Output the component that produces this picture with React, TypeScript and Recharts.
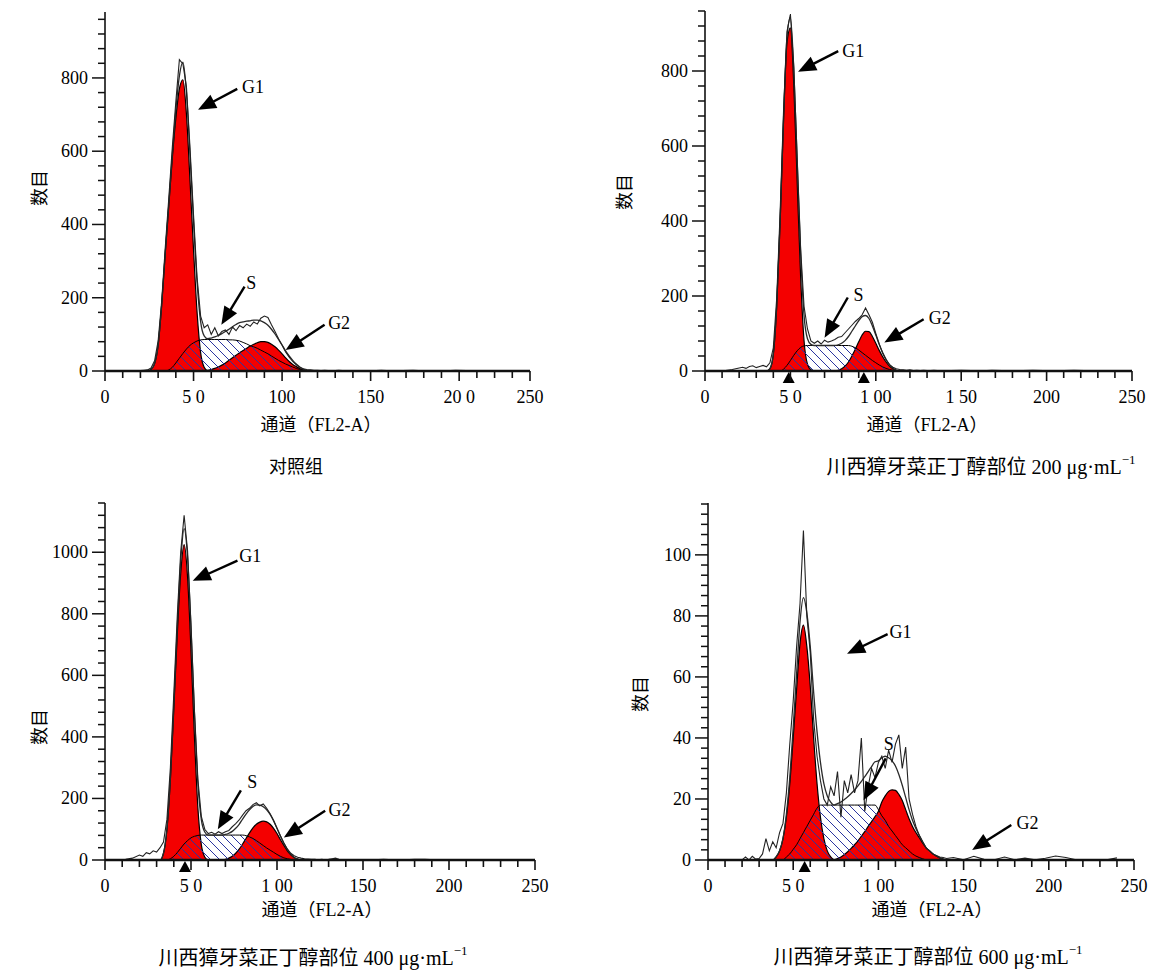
import React from 'react';
import { ComposedChart, Area, Line, XAxis, YAxis, ReferenceLine, ReferenceDot } from 'recharts';

const SERIF = '"Liberation Serif", "Times New Roman", "Noto Sans CJK SC", serif';
const CJK = '"Liberation Serif", "Noto Sans CJK SC", serif';
const RED = '#f40000';
const HATCH = '#2b35a0';
const INK = '#111';

// FL2-A channel grid (step 2) where the fitted components live
const CH = [20, 22, 24, 26, 28, 30, 32, 34, 36, 38, 40, 42, 44, 46, 48, 50, 52, 54, 56, 58, 60, 62, 64, 66, 68, 70, 72, 74, 76, 78,
  80, 82, 84, 86, 88, 90, 92, 94, 96, 98, 100, 102, 104, 106, 108, 110, 112, 114, 116, 118, 120, 122, 124, 126, 128, 130, 132, 134, 136, 138, 140];
// raw histogram outside the grid
const LEFT_CH = [0, 6, 12, 16];
const TAIL_CH = [144, 150, 156, 162, 168, 174, 180, 186, 192, 198, 204, 210, 216, 222, 228, 234, 240];

// ---- 对照组
const p1G1 = [0, 0, 0, 4, 20, 70, 180, 320, 450, 580, 690, 770, 795, 700, 520, 330, 160, 50, 10, 0];
const p1S = [0, 0, 0, 0, 0, 0, 0, 0, 3, 10, 22, 35, 48, 60, 70, 77, 82, 85, 86, 86, 86, 86, 86, 86, 86, 85, 85, 84, 82, 78,
  74, 69, 66, 62, 57, 52, 47, 41, 35, 29, 24, 19, 15, 11, 7, 4, 2, 0];
const p1G2 = [0, 0, 0, 0, 0, 0, 0, 0, 0, 0, 0, 0, 0, 0, 0, 0, 0, 0, 0, 2, 4, 7, 11, 16, 22, 29, 36, 43, 50, 56,
  62, 68, 73, 77, 80, 80, 78, 73, 66, 57, 47, 36, 26, 18, 12, 7, 3, 1, 0];
const p1Fit = [0, 0, 0, 4, 20, 70, 180, 320, 453, 590, 712, 805, 843, 760, 590, 407, 242, 135, 96, 88, 90, 93, 97, 102, 108, 114, 121, 127, 132, 134,
  136, 137, 139, 139, 137, 132, 125, 114, 101, 86, 71, 55, 41, 29, 19, 11, 5, 1, 0];
const p1Raw = [1, 2, 3, 8, 28, 82, 190, 335, 470, 610, 735, 850, 838, 775, 610, 425, 255, 150, 118, 126, 100, 118, 96, 108, 112, 100, 120, 110, 124, 118,
  128, 122, 134, 128, 144, 150, 146, 126, 108, 88, 70, 52, 38, 26, 17, 10, 6, 4, 3, 2, 2, 1, 2, 1, 1, 1, 2, 1, 1, 1, 1];
const p1RawLeft = [0, 1, 0, 1];
const p1RawTail = [1, 0.5, 2, 0.5, 1, 2, 0.5, 1, 0.5, 2, 1, 0.5, 1, 0.5, 1, 0.5, 1];

// ---- 200 μg·mL-1
const p2G1 = [0, 0, 0, 0, 0, 0, 0, 0, 0, 6, 45, 175, 400, 670, 875, 915, 760, 500, 250, 80, 18, 3, 0];
const p2S = [0, 0, 0, 0, 0, 0, 0, 0, 0, 0, 0, 0, 0, 5, 15, 28, 42, 54, 63, 67, 68, 68, 68, 68, 68, 68, 68, 68, 68, 68,
  68, 68, 68, 66, 62, 56, 49, 42, 35, 28, 22, 16, 11, 7, 4, 2, 0];
const p2G2 = [0, 0, 0, 0, 0, 0, 0, 0, 0, 0, 0, 0, 0, 0, 0, 0, 0, 0, 0, 0, 0, 0, 0, 0, 0, 0, 0, 0, 0, 2,
  6, 13, 24, 40, 58, 78, 96, 106, 105, 92, 74, 55, 38, 24, 13, 6, 2, 0];
const p2Fit = [0, 0, 0, 0, 0, 0, 0, 0, 0, 6, 45, 175, 400, 675, 890, 943, 802, 554, 313, 147, 86, 71, 68, 68, 68, 68, 68, 68, 68, 70,
  74, 81, 92, 106, 120, 134, 145, 148, 140, 120, 96, 71, 49, 31, 17, 8, 2, 0];
const p2Raw = [8, 10, 7, 12, 14, 9, 12, 15, 11, 22, 62, 195, 425, 695, 905, 952, 810, 565, 325, 172, 112, 80, 74, 80, 72, 82, 77, 80, 84, 90,
  92, 102, 112, 122, 132, 140, 150, 168, 150, 130, 100, 72, 48, 30, 17, 10, 6, 4, 3, 2, 3, 1, 2, 1, 2, 1, 1, 2, 1, 1, 1];
const p2RawLeft = [0, 0, 1, 4];
const p2RawTail = [1, 2, 1, 0.5, 2, 1, 0.5, 1, 2, 1, 0.5, 1, 2, 1, 0.5, 1, 1];

// ---- 400 μg·mL-1
const p3G1 = [0, 0, 0, 0, 0, 0, 0, 22, 100, 260, 490, 730, 930, 1025, 920, 680, 400, 170, 50, 10, 0];
const p3S = [0, 0, 0, 0, 0, 0, 0, 0, 0, 4, 12, 24, 38, 52, 63, 72, 77, 80, 81, 81, 81, 81, 81, 81, 81, 81, 81, 81, 81, 81,
  81, 79, 75, 70, 63, 55, 47, 39, 32, 25, 18, 12, 7, 4, 2, 0];
const p3G2 = [0, 0, 0, 0, 0, 0, 0, 0, 0, 0, 0, 0, 0, 0, 0, 0, 0, 0, 0, 0, 0, 0, 0, 0, 0, 2, 6, 12, 22, 35,
  52, 70, 88, 104, 116, 123, 126, 124, 116, 103, 86, 66, 47, 30, 17, 8, 3, 0];
const p3Fit = [0, 0, 0, 0, 0, 0, 0, 22, 100, 264, 502, 754, 968, 1077, 983, 752, 477, 250, 131, 91, 81, 81, 81, 81, 81, 83, 87, 93, 103, 116,
  133, 149, 163, 174, 179, 178, 173, 163, 148, 128, 104, 78, 54, 34, 19, 8, 3, 0];
const p3Raw = [16, 12, 24, 20, 30, 26, 40, 58, 132, 300, 540, 790, 1000, 1120, 1005, 765, 485, 262, 142, 100, 86, 90, 84, 92, 86, 92, 96, 108, 118, 130,
  146, 160, 168, 180, 186, 176, 182, 168, 150, 128, 102, 78, 55, 36, 22, 14, 9, 6, 4, 3, 2, 2, 1, 2, 1, 2, 4, 6, 2, 1, 1];
const p3RawLeft = [0, 0, 2, 6];
const p3RawTail = [1, 0.5, 1, 2, 0.5, 1, 2, 2, 0.5, 1, 0.5, 1, 0.5, 1, 0.5, 1, 0.5];

// ---- 600 μg·mL-1
const p4G1 = [0, 0, 0, 0, 0, 0, 0, 0, 0, 0, 1, 3, 7, 14, 25, 40, 56, 71, 77, 70, 57, 40, 25, 14, 7, 3, 1, 0];
const p4S = [0, 0, 0, 0, 0, 0, 0, 0, 0, 0, 0, 0, 0, 1, 2, 3.5, 5, 7, 9, 11, 13, 15, 17, 18, 18, 18, 18, 18, 18, 18,
  18, 18, 18, 18, 18, 18, 18, 18, 18, 18, 16.5, 14.5, 13, 11, 9.5, 8, 6.5, 5, 4, 3, 2, 1.3, 0.8, 0.4, 0];
const p4G2 = [0, 0, 0, 0, 0, 0, 0, 0, 0, 0, 0, 0, 0, 0, 0, 0, 0, 0, 0, 0, 0, 0, 0, 0, 0, 0, 0, 0, 0.5, 1,
  1.8, 2.7, 3.8, 5, 6.3, 7.8, 9.3, 11, 12.6, 14.2, 16, 19, 21, 22.5, 23, 22.8, 21.5, 19.5, 16.5, 13.5, 11, 9, 7.3, 5.5, 4, 3, 2, 1.3, 0.7, 0.3, 0];
const p4Fit = [0, 0, 0, 0, 0, 0, 0, 0, 0, 0, 1, 3, 7, 15, 27, 43.5, 61, 78, 86, 81, 70, 55, 42, 32, 25, 21, 19, 18, 18.5, 19,
  19.8, 20.7, 21.8, 23, 24.3, 25.8, 27.3, 29, 30.6, 32.2, 32.5, 33.5, 34, 33.5, 32.5, 30.8, 28, 24.5, 20.5, 16.5, 13, 10.3, 8.1, 5.9, 4, 3, 2, 1.3, 0.7, 0.3, 0];
const p4Raw = [0, 1, 0, 1.2, 0.3, 0.5, 2, 7, 3, 6, 4, 9, 12, 22, 38, 52, 70, 84, 108, 80, 68, 46, 34, 26, 20, 18, 24, 21, 29, 14,
  26, 22, 28, 22, 26, 40, 16, 24, 30, 27, 32, 34, 30, 36, 32, 38, 41, 30, 37, 20, 15, 11, 8, 6, 4, 3, 2, 1.5, 1, 0.8, 0.5];
const p4RawLeft = [0, 0, 0, 0];
const p4RawTail = [0.8, 0.1, 1.2, 0.2, 0.1, 1, 0.1, 0.6, 0.1, 0.6, 1.3, 0.8, 0.1, 0.1, 0.1, 0.1, 0.7];

// axis tick labels
const X_MAJOR_240 = [0, 50, 100, 150, 200, 240];
const X_MAJOR_250 = [0, 50, 100, 150, 200, 250];
const p1XLabels = ['0', '5 0', '100', '150', '20 0', '250'];
const p2XLabels = ['0', '5 0', '1 00', '1 50', '200', '250'];
const p3XLabels = ['0', '5 0', '1 00', '150', '200', '250'];
const p4XLabels = ['0', '5 0', '1 00', '150', '200', '250'];
const Y_MAJOR_800 = [0, 200, 400, 600, 800];
const Y_MAJOR_1000 = [0, 200, 400, 600, 800, 1000];
const Y_MAJOR_100 = [0, 20, 40, 60, 80, 100];

// peak markers under the axis (channel)
const p2Marks = [49, 93];
const p3Marks = [46.5];
const p4Marks = [56.7];

// arrows: label position, tail (x1,y1), tip (x2,y2)
const p1Notes = [
  { t: 'G1', lx: 77.4, ly: 774, x1: 74.7, y1: 770, x2: 52.5, y2: 713 },
  { t: 'S', lx: 79.7, ly: 241, x1: 78.8, y1: 230, x2: 65.7, y2: 126 },
  { t: 'G2', lx: 126, ly: 132, x1: 124, y1: 126, x2: 102, y2: 57 },
];
const p2Notes = [
  { t: 'G1', lx: 80.4, ly: 853, x1: 78, y1: 853, x2: 54.5, y2: 798 },
  { t: 'S', lx: 86.9, ly: 204, x1: 83.6, y1: 196, x2: 70, y2: 89 },
  { t: 'G2', lx: 131, ly: 142, x1: 128, y1: 138, x2: 105, y2: 76 },
];
const p3Notes = [
  { t: 'G1', lx: 78, ly: 987, x1: 77, y1: 973, x2: 51, y2: 907 },
  { t: 'S', lx: 82.7, ly: 253, x1: 79, y1: 226, x2: 65.6, y2: 100 },
  { t: 'G2', lx: 130, ly: 162, x1: 128, y1: 160, x2: 104, y2: 73 },
];
const p4Notes = [
  { t: 'G1', lx: 106.5, ly: 74.7, x1: 105.4, y1: 74, x2: 81.6, y2: 67.6 },
  { t: 'S', lx: 103.2, ly: 38, x1: 104.3, y1: 33.3, x2: 91.3, y2: 19.6 },
  { t: 'G2', lx: 181, ly: 12, x1: 178, y1: 11.5, x2: 155, y2: 3.3 },
];

const panels = [
  {
    id: 'p1', g1: p1G1, s: p1S, g2: p1G2, fit: p1Fit, raw: p1Raw, rawLeft: p1RawLeft, rawTail: p1RawTail,
    xMax: 240, xMajor: X_MAJOR_240, xLabels: p1XLabels, yMax: 980, yStep: 40, yMajor: Y_MAJOR_800,
    marks: [], notes: p1Notes, caption: '对照组', sup: false, capSize: 18,
    plot: { x: 105, y: 12, w: 425, h: 359 }, yTitle: { x: 40, y: 188 }, xTitle: { x: 321, y: 425 }, cap: { x: 296, y: 467 },
  },
  {
    id: 'p2', g1: p2G1, s: p2S, g2: p2G2, fit: p2Fit, raw: p2Raw, rawLeft: p2RawLeft, rawTail: p2RawTail,
    xMax: 250, xMajor: X_MAJOR_250, xLabels: p2XLabels, yMax: 960, yStep: 40, yMajor: Y_MAJOR_800,
    marks: p2Marks, notes: p2Notes, caption: '川西獐牙菜正丁醇部位 200 μg·mL', sup: true, capSize: 20,
    plot: { x: 705, y: 11, w: 427, h: 360 }, yTitle: { x: 625, y: 192 }, xTitle: { x: 927, y: 425 }, cap: { x: 981, y: 467 },
  },
  {
    id: 'p3', g1: p3G1, s: p3S, g2: p3G2, fit: p3Fit, raw: p3Raw, rawLeft: p3RawLeft, rawTail: p3RawTail,
    xMax: 250, xMajor: X_MAJOR_250, xLabels: p3XLabels, yMax: 1160, yStep: 40, yMajor: Y_MAJOR_1000,
    marks: p3Marks, notes: p3Notes, caption: '川西獐牙菜正丁醇部位 400 μg·mL', sup: true, capSize: 20,
    plot: { x: 105, y: 503, w: 430, h: 357 }, yTitle: { x: 40, y: 727 }, xTitle: { x: 322, y: 910 }, cap: { x: 313, y: 958 },
  },
  {
    id: 'p4', g1: p4G1, s: p4S, g2: p4G2, fit: p4Fit, raw: p4Raw, rawLeft: p4RawLeft, rawTail: p4RawTail,
    xMax: 250, xMajor: X_MAJOR_250, xLabels: p4XLabels, yMax: 117, yStep: 20 / 6, yMajor: Y_MAJOR_100,
    marks: p4Marks, notes: p4Notes, caption: '川西獐牙菜正丁醇部位 600 μg·mL', sup: true, capSize: 20,
    plot: { x: 708, y: 503, w: 426, h: 357 }, yTitle: { x: 641, y: 694 }, xTitle: { x: 932, y: 910 }, cap: { x: 928, y: 957 },
  },
];

function buildRows(p: any) {
  const rows: any[] = [];
  LEFT_CH.forEach((c, i) => rows.push({ ch: c, raw: p.rawLeft[i] }));
  CH.forEach((c, i) => rows.push({ ch: c, g1: p.g1[i], s: p.s[i], g2: p.g2[i], fit: p.fit[i], raw: p.raw[i] }));
  TAIL_CH.forEach((c, i) => rows.push({ ch: c, raw: p.rawTail[i] }));
  return rows;
}

const arrowShape = (props: any) => {
  const { x1, y1, x2, y2 } = props;
  const dx = x2 - x1;
  const dy = y2 - y1;
  const len = Math.hypot(dx, dy) || 1;
  const ux = dx / len;
  const uy = dy / len;
  const hl = 18;
  const hw = 7.5;
  const bx = x2 - ux * hl;
  const by = y2 - uy * hl;
  const pts = `${x2},${y2} ${bx - uy * hw},${by + ux * hw} ${bx + uy * hw},${by - ux * hw}`;
  return (
    <g>
      <line x1={x1} y1={y1} x2={bx + ux * 2} y2={by + uy * 2} stroke="#000" strokeWidth={2.4} />
      <polygon points={pts} fill="#000" />
    </g>
  );
};

function Panel({ p }: { p: any }) {
  const rows = buildRows(p);
  const { x, y, w, h } = p.plot;
  const axisY = 20 + h;

  const xTicks: number[] = [];
  for (let c = 0; c <= p.xMax; c += 10) xTicks.push(c);
  const yTicks: number[] = [];
  for (let k = 0; k * p.yStep <= p.yMax + 1e-6; k++) yTicks.push(+(k * p.yStep).toFixed(3));

  const XTick = (tp: any) => {
    const idx = p.xMajor.findIndex((m: number) => Math.abs(m - tp.payload.value) < 0.01);
    const major = idx >= 0;
    return (
      <g>
        <line x1={tp.x} x2={tp.x} y1={axisY} y2={axisY + (major ? 10 : 7)} stroke={INK} strokeWidth={1.6} />
        {major && (
          <text x={tp.x} y={axisY + 32} textAnchor="middle" fontSize={18} fontFamily={SERIF} fill="#000">
            {p.xLabels[idx]}
          </text>
        )}
      </g>
    );
  };

  const YTick = (tp: any) => {
    const major = p.yMajor.some((m: number) => Math.abs(m - tp.payload.value) < 0.01);
    return (
      <g>
        <line x1={tp.x - (major ? 13 : 7)} x2={tp.x} y1={tp.y} y2={tp.y} stroke={INK} strokeWidth={1.5} />
        {major && (
          <text x={tp.x - 17} y={tp.y + 6} textAnchor="end" fontSize={18} fontFamily={SERIF} fill="#000">
            {Math.round(tp.payload.value)}
          </text>
        )}
      </g>
    );
  };

  const textStyle: React.CSSProperties = {
    position: 'absolute',
    transform: 'translate(-50%, -50%)',
    whiteSpace: 'nowrap',
    fontFamily: CJK,
    color: '#000',
    lineHeight: 1,
  };

  return (
    <>
      <div style={{ position: 'absolute', left: x - 100, top: y - 20 }}>
        <ComposedChart width={w + 130} height={h + 80} data={rows} margin={{ top: 20, right: 30, bottom: 20, left: 40 }}>
          <defs>
            <pattern id={`hatch-${p.id}`} patternUnits="userSpaceOnUse" width="9" height="9">
              <path d="M-2,-2 L11,11 M-2,7 L2,11 M7,-2 L11,2" stroke={HATCH} strokeWidth={1} />
            </pattern>
          </defs>
          <XAxis
            type="number"
            dataKey="ch"
            domain={[0, p.xMax]}
            allowDataOverflow
            ticks={xTicks}
            interval={0}
            tick={XTick}
            tickLine={false}
            tickSize={0}
            tickMargin={0}
            axisLine={{ stroke: INK, strokeWidth: 2.4 }}
            height={40}
          />
          <YAxis
            type="number"
            domain={[0, p.yMax]}
            allowDataOverflow
            ticks={yTicks}
            interval={0}
            tick={YTick}
            tickLine={false}
            tickSize={0}
            tickMargin={0}
            axisLine={{ stroke: INK, strokeWidth: 1.6 }}
            width={60}
          />
          <Area dataKey="g1" type="monotone" fill={RED} fillOpacity={1} stroke="#000" strokeWidth={1.2} isAnimationActive={false} dot={false} activeDot={false} />
          <Area dataKey="g2" type="monotone" fill={RED} fillOpacity={1} stroke="#000" strokeWidth={1.2} isAnimationActive={false} dot={false} activeDot={false} />
          <Area dataKey="s" type="monotone" fill={`url(#hatch-${p.id})`} fillOpacity={1} stroke="#000" strokeWidth={1} isAnimationActive={false} dot={false} activeDot={false} />
          <Line dataKey="fit" type="monotone" stroke="#2a2a2a" strokeWidth={1.3} dot={false} activeDot={false} isAnimationActive={false} />
          <Line dataKey="raw" type="linear" stroke="#222" strokeWidth={1.1} dot={false} activeDot={false} isAnimationActive={false} />
          {p.marks.map((m: number, i: number) => (
            <ReferenceDot
              key={`m${i}`}
              x={m}
              y={0}
              ifOverflow="visible"
              shape={(dp: any) => (
                <polygon points={`${dp.cx},${dp.cy + 1} ${dp.cx - 6},${dp.cy + 12} ${dp.cx + 6},${dp.cy + 12}`} fill="#000" />
              )}
            />
          ))}
          {p.notes.map((n: any, i: number) => (
            <ReferenceLine
              key={`a${i}`}
              segment={[{ x: n.x1, y: n.y1 }, { x: n.x2, y: n.y2 }]}
              ifOverflow="visible"
              shape={arrowShape}
            />
          ))}
          {p.notes.map((n: any, i: number) => (
            <ReferenceDot
              key={`l${i}`}
              x={n.lx}
              y={n.ly}
              ifOverflow="visible"
              shape={(dp: any) => (
                <text x={dp.cx} y={dp.cy} dy={6} textAnchor="start" fontSize={18} fontFamily={SERIF} fill="#000">
                  {n.t}
                </text>
              )}
            />
          ))}
        </ComposedChart>
      </div>
      <div style={{ ...textStyle, left: p.xTitle.x, top: p.xTitle.y, fontSize: 18 }}>通道（FL2-A）</div>
      <div style={{ ...textStyle, left: p.yTitle.x, top: p.yTitle.y, fontSize: 18, transform: 'translate(-50%, -50%) rotate(-90deg)' }}>数目</div>
      <div style={{ ...textStyle, left: p.cap.x, top: p.cap.y, fontSize: p.capSize }}>
        {p.caption}
        {p.sup && <sup style={{ fontSize: 13, verticalAlign: 'top', position: 'relative', top: -4 }}>−1</sup>}
      </div>
    </>
  );
}

export default function App() {
  return (
    <div style={{ position: 'absolute', left: 0, top: 0, width: 1158, height: 971, background: '#fff', overflow: 'hidden' }}>
      {panels.map((p) => (
        <Panel key={p.id} p={p} />
      ))}
    </div>
  );
}
